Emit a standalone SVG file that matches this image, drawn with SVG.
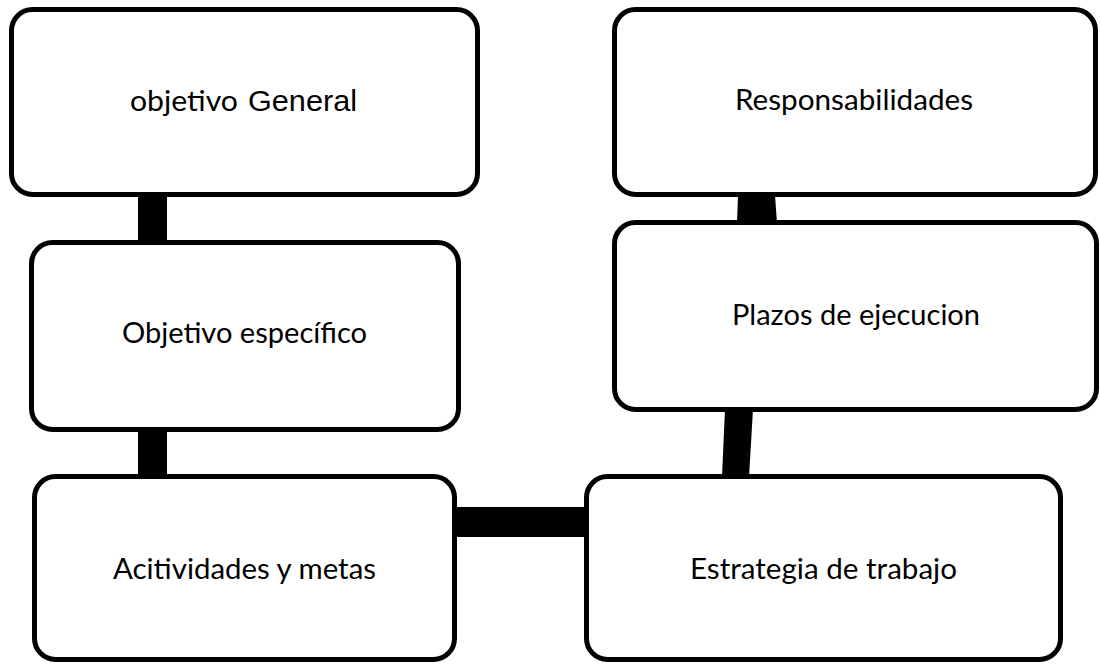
<svg xmlns="http://www.w3.org/2000/svg" width="1100" height="664" viewBox="0 0 1100 664">
  <style>
    .box { fill: #ffffff; stroke: #000000; stroke-width: 5; }
    .conn { fill: #000000; stroke: none; }
    .lbl { font-family: Lato, "Open Sans", "Noto Sans", sans-serif; font-size: 28px; fill: #000000; }
    .arial { font-family: "Liberation Sans", Arial, sans-serif; font-size: 30px; }
  </style>
  <rect width="1100" height="664" fill="#ffffff"/>
  <g id="connectors">
    <rect class="conn" x="138" y="195" width="29" height="48"/>
    <rect class="conn" x="138" y="430" width="29" height="47"/>
    <rect class="conn" x="455" y="507" width="132" height="30"/>
    <polygon class="conn" points="725,409 753,409 749,477 722,477"/>
    <polygon class="conn" points="738,195 775,195 777,223 737,223"/>
  </g>
  <g id="node-objetivo-general">
    <rect class="box" x="11.5" y="9.5" width="466" height="185" rx="21" ry="21"/>
    <text class="lbl" y="111"><tspan x="130" textLength="108" lengthAdjust="spacingAndGlyphs">objetivo</tspan><tspan class="arial" x="248" textLength="109" lengthAdjust="spacingAndGlyphs">General</tspan></text>
  </g>
  <g id="node-objetivo-especifico">
    <rect class="box" x="31.5" y="242.5" width="427" height="187" rx="21" ry="21"/>
    <text class="lbl" x="122" y="343" textLength="245" lengthAdjust="spacingAndGlyphs">Objetivo específico</text>
  </g>
  <g id="node-actividades">
    <rect class="box" x="34.5" y="476.5" width="420" height="183" rx="21" ry="21"/>
    <text class="lbl" x="113" y="579" textLength="263" lengthAdjust="spacingAndGlyphs">Acitividades y metas</text>
  </g>
  <g id="node-estrategia">
    <rect class="box" x="586.5" y="476.5" width="474" height="183" rx="21" ry="21"/>
    <text class="lbl" x="690" y="579" textLength="267" lengthAdjust="spacingAndGlyphs">Estrategia de trabajo</text>
  </g>
  <g id="node-plazos">
    <rect class="box" x="614.5" y="222.5" width="482" height="187" rx="21" ry="21"/>
    <text class="lbl" x="732" y="325" textLength="248" lengthAdjust="spacingAndGlyphs">Plazos de ejecucion</text>
  </g>
  <g id="node-responsabilidades">
    <rect class="box" x="614.5" y="9.5" width="481" height="185" rx="21" ry="21"/>
    <text class="lbl" x="735" y="110" textLength="238" lengthAdjust="spacingAndGlyphs">Responsabilidades</text>
  </g>
</svg>
